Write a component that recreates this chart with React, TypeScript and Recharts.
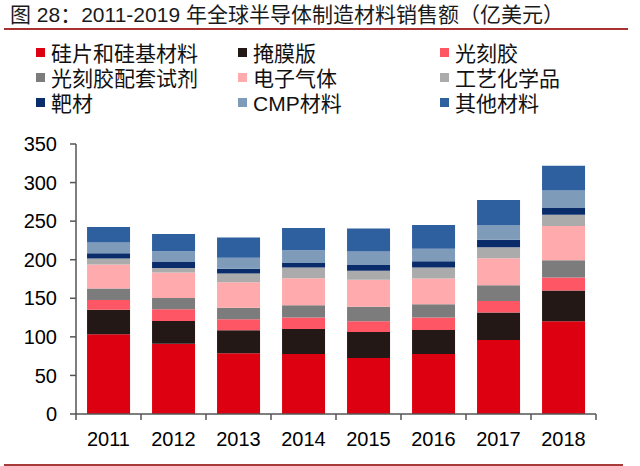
import React from 'react';
import { BarChart, Bar, XAxis, YAxis, Legend } from 'recharts';

const years = ['2011', '2012', '2013', '2014', '2015', '2016', '2017', '2018'];
const silicon = [103.4, 91.2, 78.8, 77.9, 72.7, 77.9, 96.0, 120.3];
const mask = [31.6, 29.5, 29.8, 32.4, 33.7, 31.1, 35.5, 39.7];
const photoresist = [12.9, 15.2, 14.3, 14.7, 13.9, 16.0, 15.1, 16.9];
const ancillary = [14.7, 14.6, 14.7, 16.0, 18.6, 17.3, 20.4, 22.5];
const gases = [31.2, 32.9, 33.3, 35.1, 35.0, 33.3, 35.0, 44.2];
const wetChem = [7.8, 5.7, 11.2, 13.8, 11.7, 14.3, 14.3, 14.6];
const target = [6.9, 7.8, 6.1, 5.7, 7.7, 8.2, 9.5, 8.7];
const cmp = [13.8, 14.2, 14.2, 16.8, 17.3, 16.0, 19.1, 22.9];
const other = [20.0, 22.1, 26.4, 28.6, 29.9, 30.8, 32.4, 32.0];

const yTicks = [0, 50, 100, 150, 200, 250, 300, 350];

const seriesNames = ['硅片和硅基材料', '掩膜版', '光刻胶', '光刻胶配套试剂', '电子气体', '工艺化学品', '靶材', 'CMP材料', '其他材料'];
const seriesKeys = ['silicon', 'mask', 'photoresist', 'ancillary', 'gases', 'wetChem', 'target', 'cmp', 'other'];
const seriesColors = ['#dc0010', '#231816', '#ff5666', '#7c7c7c', '#ffaaad', '#ababab', '#0b2c6b', '#7f9bba', '#2e5f9e'];
const seriesValues = [silicon, mask, photoresist, ancillary, gases, wetChem, target, cmp, other];

const data = years.map((year, i) => {
  const row: Record<string, any> = { year };
  seriesKeys.forEach((k, s) => {
    row[k] = seriesValues[s][i];
  });
  return row;
});

const FONT = '"Liberation Sans", Arial, "Noto Sans CJK SC", sans-serif';
const AXIS_COLOR = '#555';

const legendCols = [36, 238, 440];
const legendRows = [52, 77, 102];

const renderLegend = (props: any) => {
  const payload = [...(props.payload || [])].sort(
    (a: any, b: any) => seriesNames.indexOf(a.value) - seriesNames.indexOf(b.value)
  );
  return (
    <div style={{ position: 'relative', width: 0, height: 0 }}>
      {payload.map((entry: any, i: number) => {
        const col = i % 3;
        const row = Math.floor(i / 3);
        return (
          <div
            key={entry.value}
            style={{
              position: 'absolute',
              left: legendCols[col],
              top: legendRows[row] - 13,
              height: 26,
              display: 'flex',
              alignItems: 'center',
              whiteSpace: 'nowrap',
              fontFamily: FONT,
              fontSize: 21,
              color: '#111',
            }}
          >
            <span style={{ display: 'inline-block', width: 9, height: 9, background: entry.color, marginRight: 6 }} />
            <span>{entry.value}</span>
          </div>
        );
      })}
    </div>
  );
};

const TICK_SIZE = 6;
const TICK_MARGIN = 12;
const HALF_BAND = 32.5;

const XTick = (props: any) => {
  const { x, y, payload, index, visibleTicksCount } = props;
  const axisY = y - TICK_SIZE - TICK_MARGIN;
  const isLast = index === visibleTicksCount - 1;
  return (
    <g>
      <line x1={x - HALF_BAND} x2={x - HALF_BAND} y1={axisY} y2={axisY + TICK_SIZE} stroke={AXIS_COLOR} strokeWidth={1.5} />
      {isLast && (
        <line x1={x + HALF_BAND} x2={x + HALF_BAND} y1={axisY} y2={axisY + TICK_SIZE} stroke={AXIS_COLOR} strokeWidth={1.5} />
      )}
      <text x={x} y={y} dy="0.71em" textAnchor="middle" fill="#000" fontSize={20} fontFamily={FONT}>
        {payload.value}
      </text>
    </g>
  );
};

export default function App() {
  return (
    <div style={{ position: 'absolute', left: 0, top: 0, width: 640, height: 466, background: '#fff', overflow: 'hidden' }}>
      <div
        style={{
          position: 'absolute',
          left: 10,
          top: 3,
          fontFamily: FONT,
          fontSize: 21,
          lineHeight: '24px',
          color: '#1a1a1a',
          whiteSpace: 'nowrap',
        }}
      >
        图 28：2011-2019 年全球半导体制造材料销售额（亿美元）
      </div>
      <div style={{ position: 'absolute', left: 4, top: 28, width: 624, height: 2, background: '#a83232' }} />
      <div style={{ position: 'absolute', left: 4, top: 464, width: 619, height: 2, background: '#a83a3a' }} />
      <div style={{ position: 'absolute', left: 0, top: 0 }}>
        <BarChart
          width={640}
          height={466}
          data={data}
          margin={{ top: 144, right: 44, bottom: 22, left: 16 }}
          barCategoryGap="17%"
        >
          <XAxis
            dataKey="year"
            height={30}
            axisLine={{ stroke: AXIS_COLOR, strokeWidth: 1.5 }}
            tickLine={false}
            tickSize={TICK_SIZE}
            tickMargin={TICK_MARGIN}
            interval={0}
            tick={<XTick />}
          />
          <YAxis
            domain={[0, 350]}
            ticks={yTicks}
            width={60}
            tickSize={6}
            tickMargin={13}
            axisLine={{ stroke: AXIS_COLOR, strokeWidth: 1.5 }}
            tickLine={{ stroke: AXIS_COLOR, strokeWidth: 1.5 }}
            tick={{ fill: '#000', fontSize: 20, fontFamily: FONT }}
          />
          <Legend
            verticalAlign="top"
            content={renderLegend}
            wrapperStyle={{ position: 'absolute', left: 0, top: 0, width: 0, height: 0, overflow: 'visible' }}
          />
          {seriesKeys.map((k, s) => (
            <Bar
              key={k}
              dataKey={k}
              name={seriesNames[s]}
              stackId="a"
              fill={seriesColors[s]}
              isAnimationActive={false}
            />
          ))}
        </BarChart>
      </div>
    </div>
  );
}
